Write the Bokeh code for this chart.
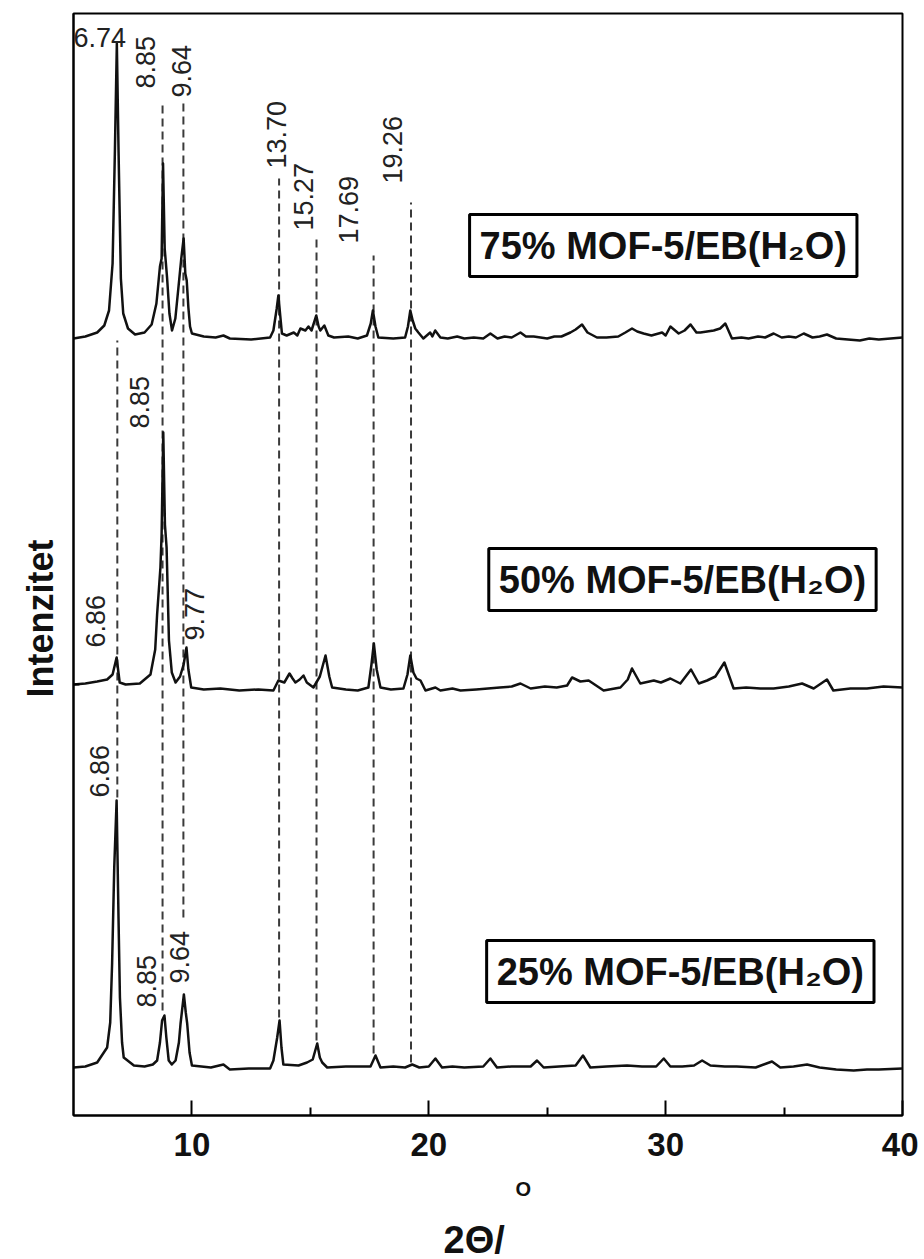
import math
from bokeh.plotting import figure
from bokeh.models import Label, FixedTicker, Range1d, ColumnDataSource, Title
from bokeh.core.properties import value
from bokeh.embed import file_html
from bokeh.resources import INLINE

# ---------------- data ----------------
# 75% MOF-5/EB(H2O)  -- 2theta and intensity (a.u., relative to own baseline)
x75 = [5.0, 5.5, 6.0, 6.3, 6.5, 6.65, 6.75, 6.83, 6.9, 7.0, 7.1, 7.3, 7.6, 8.0, 8.3, 8.5, 8.65, 8.72, 8.78, 8.85,
       8.95, 9.05, 9.16, 9.3, 9.43, 9.55, 9.65, 9.72, 9.78, 9.85, 9.92, 10.0, 10.5, 11.0, 11.33, 11.6, 12.5, 13.3,
       13.44, 13.58, 13.65, 13.72, 13.8, 14.0, 14.3, 14.45, 14.58, 14.79, 14.92, 15.05, 15.25, 15.35, 15.42, 15.59,
       15.76, 16.0, 16.6, 17.0, 17.39, 17.55, 17.64, 17.75, 17.87, 18.5, 19.0, 19.12, 19.22, 19.32, 19.43, 19.56,
       19.77, 20.06, 20.15, 20.27, 20.49, 20.8, 21.2, 21.5, 21.9, 22.3, 22.6, 22.9, 23.2, 23.5, 23.87, 24.1, 24.43,
       25.0, 25.3, 25.6, 25.98, 26.2, 26.47, 26.7, 27.1, 27.5, 28.0, 28.3, 28.58, 28.8, 29.07, 29.4, 29.85, 30.0,
       30.2, 30.55, 30.8, 31.05, 31.3, 31.47, 32.03, 32.3, 32.52, 32.8, 33.2, 33.5, 33.9, 34.2, 34.56, 34.9, 35.2,
       35.5, 35.83, 36.2, 36.5, 36.81, 37.2, 37.7, 38.2, 38.6, 39.0, 39.5, 40.0]
i75 = [0, 2, 6, 13, 28, 75, 190, 295, 190, 60, 25, 10, 4, 6, 14, 35, 72, 80, 175, 90,
       61, 25, 8, 20, 51, 80, 100, 65, 58, 31, 12, 5, 2, 1, 3, 0, -1, 1,
       8, 30, 43, 25, 5, 3, 6, 3, 10, 8, 12, 8, 23, 12, 8, 13,
       3, 1, 2, 0, 3, 15, 28, 12, 1, 0, 1, 12, 28, 18, 10, 6,
       0, 6, 2, 8, 1, 0, 2, 0, 1, 0, 5, 0, 2, 1, 6, 2, 2,
       0, 2, 2, 6, 9, 14, 6, 1, 1, 2, 6, 10, 7, 5, 3, 6, 3,
       12, 5, 8, 14, 6, 6, 8, 10, 15, 0, 1, 0, 2, 1, 5, 1, 2,
       1, 5, 1, 2, 4, 0, -1, -2, 0, -1, 0, 1]

# 50% MOF-5/EB(H2O)
x50 = [5.0, 5.5, 6.0, 6.42, 6.65, 6.82, 6.95, 7.2, 7.8, 8.25, 8.45, 8.53, 8.67, 8.72, 8.79, 8.86, 8.93, 9.03,
       9.15, 9.31, 9.5, 9.65, 9.77, 9.85, 9.97, 10.5, 11.2, 12.0, 12.8, 13.44, 13.65, 13.9, 14.12, 14.25, 14.37,
       14.55, 14.71, 14.85, 15.13, 15.4, 15.64, 15.8, 15.92, 16.5, 17.0, 17.45, 17.58, 17.68, 17.8, 17.96, 18.4,
       18.93, 19.1, 19.22, 19.35, 19.48, 19.65, 19.86, 20.28, 20.49, 21.0, 21.34, 22.0, 22.5, 23.0, 23.5, 23.87,
       24.3, 24.9, 25.4, 25.84, 26.05, 26.4, 26.75, 27.38, 28.09, 28.4, 28.58, 28.93, 29.5, 29.8, 30.2, 30.62,
       31.07, 31.4, 31.75, 32.1, 32.48, 32.87, 33.4, 34.0, 34.56, 35.2, 35.76, 36.25, 36.81, 37.08, 37.8, 38.5,
       39.2, 40.0]
i50 = [0, 1, 3, 5, 10, 27, 2, 0, 1, 10, 35, 70, 117, 150, 252, 160, 137, 44,
       12, 2, 8, 20, 37, 15, -3, -5, -4, -6, -5, -6, 4, 2, 11, 6, 2,
       5, 9, 2, -3, 8, 29, 8, -3, -5, -6, -3, 20, 41, 15, -3, -5,
       -4, 10, 29, 12, 6, 4, -6, -3, -6, -4, -6, -5, -4, -3, -2, 1,
       -4, -2, -3, -1, 7, 3, 4, -6, -3, 5, 16, 1, 4, 2, 6, 1,
       15, 1, 4, 8, 22, -4, -3, -4, -4, -2, 1, -4, 5, -6, -4, -4,
       -2, -3]

# 25% MOF-5/EB(H2O)
x25 = [5.0, 5.5, 6.0, 6.42, 6.55, 6.63, 6.72, 6.82, 6.9, 6.96, 7.05, 7.12, 7.55, 8.0, 8.35, 8.53, 8.65, 8.74,
       8.84, 8.92, 9.02, 9.15, 9.31, 9.45, 9.52, 9.66, 9.74, 9.8, 9.9, 10.0, 10.8, 11.33, 11.6, 12.4, 13.3, 13.44,
       13.6, 13.7, 13.78, 13.86, 14.5, 14.86, 15.1, 15.29, 15.4, 15.5, 15.71, 16.5, 17.54, 17.75, 17.96, 18.5,
       19.0, 19.3, 19.6, 20.0, 20.28, 20.56, 21.0, 21.5, 22.3, 22.6, 22.88, 23.5, 24.3, 24.57, 24.85, 25.5, 26.2,
       26.51, 26.82, 27.5, 28.37, 29.0, 29.6, 29.92, 30.2, 30.7, 31.2, 31.54, 31.89, 32.5, 33.0, 33.8, 34.49,
       34.84, 35.4, 35.97, 36.5, 37.2, 37.94, 38.5, 39.0, 40.0]
i25 = [0, 1, 5, 20, 45, 104, 200, 267, 150, 70, 25, 10, 2, 1, 3, 7, 25, 47,
       52, 30, 7, 3, 7, 25, 44, 73, 55, 44, 15, 2, 0, 3, -2, -1, -1, 7,
       30, 47, 20, 3, 2, 5, 8, 24, 10, 5, 0, 1, 1, 12, 0, 1,
       0, 3, 0, 1, 9, 0, 1, 0, 1, 9, 0, 1, 1, 7, 0, 1, 2,
       12, 0, 1, 2, 1, 1, 9, 1, 1, 2, 7, 2, 1, 1, 0, 6,
       0, 1, 3, 0, -2, -3, -2, -2, -1]

series_names = ["75% MOF-5/EB(H₂O)", "50% MOF-5/EB(H₂O)", "25% MOF-5/EB(H₂O)"]
series_offsets = [777, 431, 48]

# reference lines (2theta) and their vertical extent (a.u.)
ref_x = [6.85, 8.76, 9.64, 13.68, 15.26, 17.67, 19.25]
ref_top = [775, 1012, 1015, 937, 877, 860, 913]
ref_bottom = [318, 105, 198, 98, 75, 62, 53]

# peak labels
peak_text = ["8.85", "9.64", "13.70", "15.27", "17.69", "19.26",
             "8.85", "6.86", "9.77",
             "6.86", "8.85", "9.64"]
peak_x = [8.04, 9.58, 13.55, 14.7, 16.62, 18.47,
          7.77, 5.93, 10.09,
          6.08, 8.08, 9.47]
peak_y = [1027, 1018, 947, 885, 872, 932,
          687, 468, 475,
          318, 108, 132]
top_label = "6.74"

x_ticks = [10, 20, 30, 40]
x_minor = [15, 25, 35]

# ---------------- figure ----------------
FONT = "Liberation Sans"
p = figure(frame_width=829, frame_height=1102,
           x_range=Range1d(5, 40), y_range=Range1d(0, 1102),
           output_backend="svg", toolbar_location=None,
           min_border_left=73, min_border_top=13, min_border_right=16, min_border_bottom=144)
p.background_fill_color = "white"
p.border_fill_color = "white"
p.xgrid.visible = False
p.ygrid.visible = False
p.outline_line_color = "black"
p.outline_line_width = 2

# x axis
xa = p.xaxis[0]
xa.ticker = FixedTicker(ticks=x_ticks, minor_ticks=x_minor)
xa.major_tick_in = 15
xa.major_tick_out = 0
xa.minor_tick_in = 8
xa.minor_tick_out = 0
xa.major_tick_line_width = 2
xa.minor_tick_line_width = 2
xa.axis_line_width = 2
xa.major_label_text_font = FONT
xa.major_label_text_font_style = "bold"
xa.major_label_text_font_size = "33px"
xa.major_label_text_color = "#111111"
xa.major_label_standoff = 17

# y axis
ya = p.yaxis[0]
ya.ticker = FixedTicker(ticks=[series_offsets[1]])
ya.major_label_overrides = {series_offsets[1]: ""}
ya.major_label_text_font_size = "0px"
ya.major_label_standoff = 0
ya.major_tick_in = 6
ya.major_tick_out = 0
ya.minor_tick_in = 0
ya.minor_tick_out = 0
ya.axis_line_width = 2
ya.major_tick_line_width = 2

# axis titles (as side titles so they can be placed freely)
p.add_layout(Title(text="O", align="left", offset=442, standoff=34,
                   text_font=FONT, text_font_style="bold", text_font_size="20px",
                   text_color="#111111"), "below")
p.add_layout(Title(text="2Θ/", align="left", offset=370, standoff=0,
                   text_font=FONT, text_font_style="bold", text_font_size="38px",
                   text_color="#111111"), "below")
p.add_layout(Title(text="Intenzitet", align="left", offset=418, standoff=22, vertical_align="top",
                   text_font=FONT, text_font_style="bold", text_font_size="36px",
                   text_color="#111111"), "left")

# dashed reference lines
p.segment(x0=ref_x, y0=ref_bottom, x1=ref_x, y1=ref_top,
          line_color="#3a3a3a", line_width=2, line_dash="8 5")

# traces
for xs, ys, off in zip([x75, x50, x25], [i75, i50, i25], series_offsets):
    p.line(xs, [v + off for v in ys], line_color="#111111", line_width=2.5, line_join="round")

# peak labels (vertical)
src = ColumnDataSource(dict(x=peak_x, y=peak_y, t=peak_text))
p.text(x="x", y="y", text="t", source=src, angle=math.pi / 2,
       text_align="left", text_baseline="middle",
       text_font=value(FONT), text_font_size="27px", text_color="#222222")

# horizontal top label
p.text(x=[5.0], y=[1078], text=[top_label], text_align="left", text_baseline="alphabetic",
       text_font=value(FONT), text_font_size="27px", text_color="#222222")

# sample boxes
box_x = [29.9, 30.71, 30.62]
box_y = [870, 536, 144]
for name, bx, by in zip(series_names, box_x, box_y):
    p.add_layout(Label(x=bx, y=by, text=name, text_align="center", text_baseline="middle",
                       text_font=FONT, text_font_style="bold", text_font_size="38px",
                       text_color="#111111", border_line_color="black", border_line_width=3,
                       background_fill_color="white", padding=10))

open("out.html", "w").write(file_html(p, INLINE))
